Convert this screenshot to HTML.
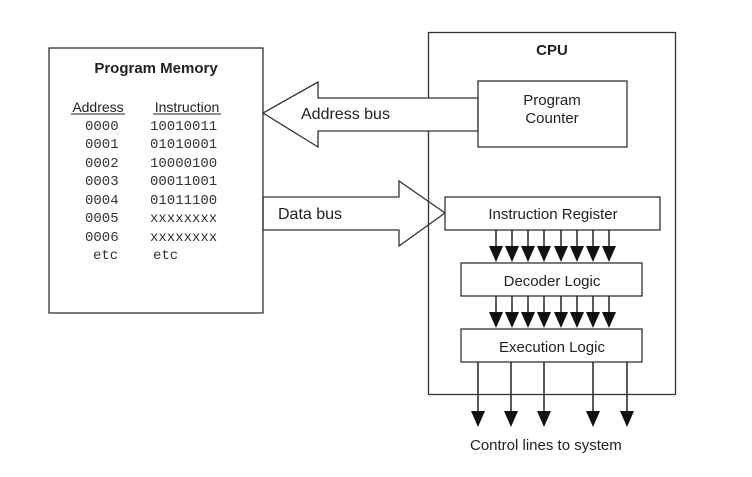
<!DOCTYPE html>
<html><head><style>
html,body{margin:0;padding:0;background:#fff;}
svg{display:block;}
text{font-family:"Liberation Sans",sans-serif;fill:#222;}
.m{font-family:"Liberation Mono",monospace;font-size:14px;fill:#333;}
</style></head><body>
<svg width="752" height="477" viewBox="0 0 752 477" xmlns="http://www.w3.org/2000/svg">
<g stroke="#333" stroke-width="1.3" fill="none">
<rect x="49" y="48" width="214" height="265" fill="#fff"/>
<rect x="428.5" y="32.5" width="247" height="362"/>
<polygon points="478,98 318,98 318,82 263,113 318,147 318,131 478,131" fill="#fff"/>
<rect x="478" y="81" width="149" height="66" fill="#fff"/>
<polygon points="263,197 399,197 399,181 445,213 399,246 399,230 263,230"/>
<rect x="445" y="197" width="215" height="33" fill="#fff"/>
<rect x="461" y="263" width="181" height="33" fill="#fff"/>
<rect x="461" y="329" width="181" height="33" fill="#fff"/>
</g>
<g stroke="#222" stroke-width="1.5">
<line x1="496" y1="230" x2="496" y2="248"/><line x1="512" y1="230" x2="512" y2="248"/><line x1="528" y1="230" x2="528" y2="248"/><line x1="544" y1="230" x2="544" y2="248"/><line x1="561" y1="230" x2="561" y2="248"/><line x1="577" y1="230" x2="577" y2="248"/><line x1="593" y1="230" x2="593" y2="248"/><line x1="609" y1="230" x2="609" y2="248"/>
<line x1="496" y1="296" x2="496" y2="314"/><line x1="512" y1="296" x2="512" y2="314"/><line x1="528" y1="296" x2="528" y2="314"/><line x1="544" y1="296" x2="544" y2="314"/><line x1="561" y1="296" x2="561" y2="314"/><line x1="577" y1="296" x2="577" y2="314"/><line x1="593" y1="296" x2="593" y2="314"/><line x1="609" y1="296" x2="609" y2="314"/>
<line x1="478" y1="362" x2="478" y2="414"/><line x1="511" y1="362" x2="511" y2="414"/><line x1="544" y1="362" x2="544" y2="414"/><line x1="593" y1="362" x2="593" y2="414"/><line x1="627" y1="362" x2="627" y2="414"/>
</g>
<g fill="#111">
<polygon points="489,246 503,246 496,262"/><polygon points="505,246 519,246 512,262"/><polygon points="521,246 535,246 528,262"/><polygon points="537,246 551,246 544,262"/><polygon points="554,246 568,246 561,262"/><polygon points="570,246 584,246 577,262"/><polygon points="586,246 600,246 593,262"/><polygon points="602,246 616,246 609,262"/>
<polygon points="489,312 503,312 496,328"/><polygon points="505,312 519,312 512,328"/><polygon points="521,312 535,312 528,328"/><polygon points="537,312 551,312 544,328"/><polygon points="554,312 568,312 561,328"/><polygon points="570,312 584,312 577,328"/><polygon points="586,312 600,312 593,328"/><polygon points="602,312 616,312 609,328"/>
<polygon points="471,411 485,411 478,427"/><polygon points="504,411 518,411 511,427"/><polygon points="537,411 551,411 544,427"/><polygon points="586,411 600,411 593,427"/><polygon points="620,411 634,411 627,427"/>
</g>
<text x="156" y="73" font-size="15" font-weight="bold" text-anchor="middle">Program Memory</text>
<text x="98" y="112" font-size="14" text-anchor="middle">Address</text>
<text x="187" y="112" font-size="14" text-anchor="middle">Instruction</text>
<line x1="71" y1="114" x2="125" y2="114" stroke="#222"/>
<line x1="153" y1="114" x2="221" y2="114" stroke="#222"/>
<text class="m" x="85" y="130">0000</text><text class="m" x="150" y="130">10010011</text>
<text class="m" x="85" y="148">0001</text><text class="m" x="150" y="148">01010001</text>
<text class="m" x="85" y="167">0002</text><text class="m" x="150" y="167">10000100</text>
<text class="m" x="85" y="185">0003</text><text class="m" x="150" y="185">00011001</text>
<text class="m" x="85" y="204">0004</text><text class="m" x="150" y="204">01011100</text>
<text class="m" x="85" y="222">0005</text><text class="m" x="150" y="222">xxxxxxxx</text>
<text class="m" x="85" y="241">0006</text><text class="m" x="150" y="241">xxxxxxxx</text>
<text class="m" x="93" y="259">etc</text><text class="m" x="153" y="259">etc</text>
<text x="552" y="55" font-size="15" font-weight="bold" text-anchor="middle">CPU</text>
<text x="552" y="105" font-size="15" text-anchor="middle">Program</text>
<text x="552" y="123" font-size="15" text-anchor="middle">Counter</text>
<text x="301" y="119" font-size="16">Address bus</text>
<text x="278" y="219" font-size="16">Data bus</text>
<text x="553" y="219" font-size="15" text-anchor="middle">Instruction Register</text>
<text x="552" y="286" font-size="15" text-anchor="middle">Decoder Logic</text>
<text x="552" y="352" font-size="15" text-anchor="middle">Execution Logic</text>
<text x="470" y="450" font-size="15">Control lines to system</text>
</svg>
</body></html>
